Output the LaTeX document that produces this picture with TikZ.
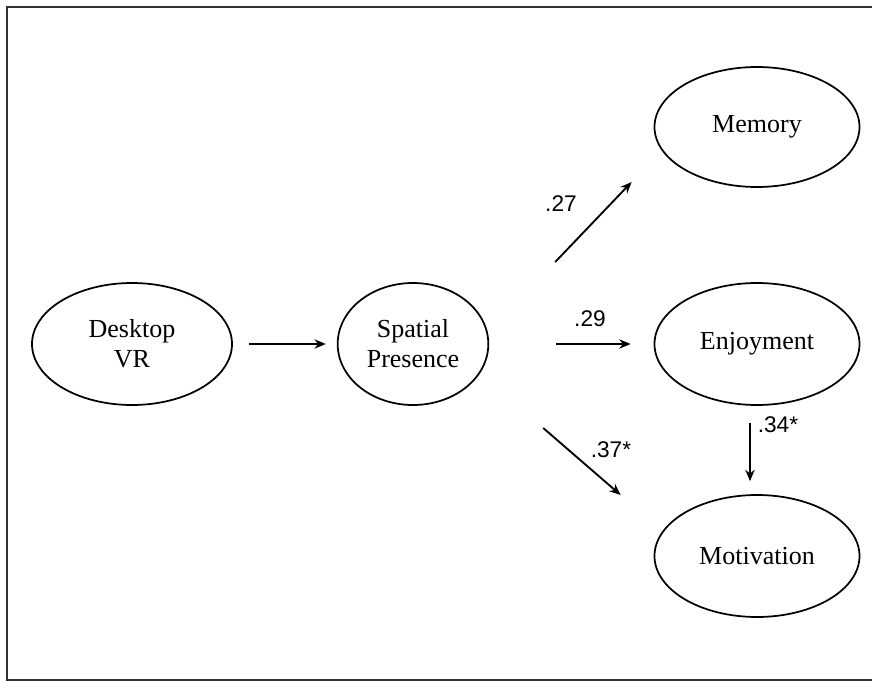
\documentclass[tikz,border=0pt]{standalone}
\usepackage{fontspec}
\setmainfont{Liberation Serif}
\newfontfamily\coeffont{Liberation Sans}
\usetikzlibrary{shapes.geometric,arrows.meta,calc}

\tikzset{
  construct/.style={ellipse, draw, line width=1.3pt, inner sep=0pt, align=center,
    minimum height=91.5pt, font=\fontsize{19.5}{22.5}\selectfont},
  pathArrow/.style={line width=1.4pt, -{Stealth[length=8.5pt,width=7pt]}},
  coef/.style={inner sep=0.75pt, font=\coeffont\fontsize{17}{20}\selectfont}
}

\begin{document}
\begin{tikzpicture}[x=0.75pt,y=0.75pt,yscale=-1,xscale=1]
\clip (0,0) rectangle (872,682);

%Shape: Frame
\draw [line width=1.9pt, color=black!80] (7,7) rectangle (900,680);

%Shape: Ellipse
\node [construct, minimum width=150pt] (dvr) at (132,344) {Desktop\\VR};
%Shape: Ellipse
\node [construct, minimum width=113pt] (sp) at (413,344) {Spatial\\Presence};
%Shape: Ellipse
\node [construct, minimum width=153.75pt, minimum height=90pt] (mem) at (757,127) {Memory};
%Shape: Ellipse
\node [construct, minimum width=153.75pt] (enj) at (757,344) {Enjoyment};
%Shape: Ellipse
\node [construct, minimum width=153.75pt] (mot) at (757,556) {Motivation};

%Straight Lines
\draw [pathArrow] ($(dvr.east)+(16,0)$) -- ($(sp.west)+(-11,0)$);
%Straight Lines
\draw [pathArrow] ($(sp.east)+(66,-82)$) -- ($(mem.west)+(-22,55)$);
%Straight Lines
\draw [pathArrow] ($(sp.east)+(67,0)$) -- ($(enj.west)+(-23,0)$);
%Straight Lines
\draw [pathArrow] ($(sp.east)+(54,84)$) -- ($(mot.west)+(-33,-61)$);
%Straight Lines
\draw [pathArrow] ($(enj.south)+(-7,17)$) -- ($(mot.north)+(-7,-13)$);

% Text Node
\node [coef] (c27) at (561,204) {.27};
% Text Node
\node [coef] (c29) at (590,319) {.29};
% Text Node
\node [coef] (c37) at (611,450) {.37*};
% Text Node
\node [coef] (c34) at (778,425) {.34*};

\end{tikzpicture}
\end{document}
